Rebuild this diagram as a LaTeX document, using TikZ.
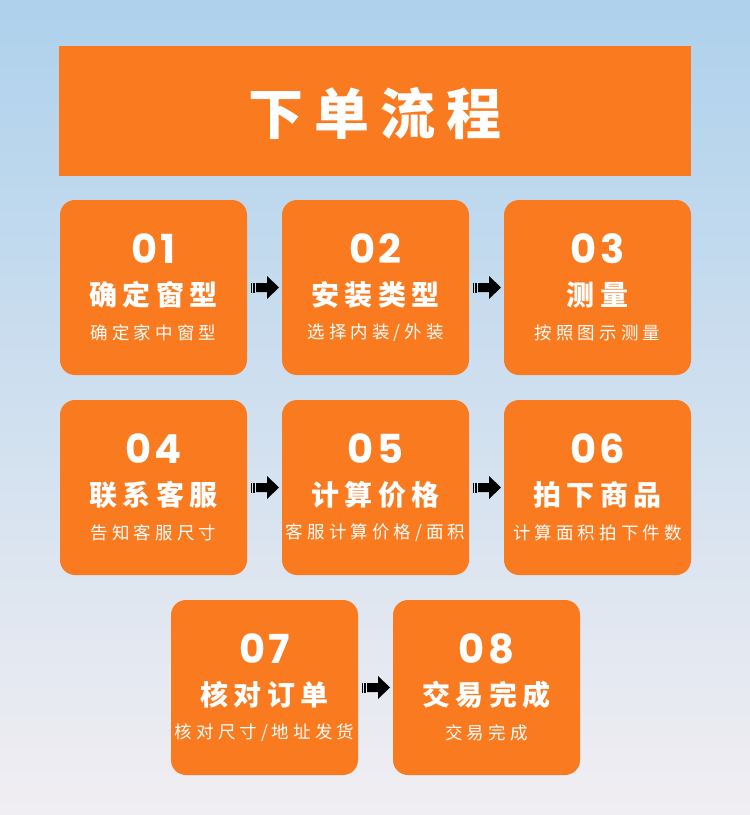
\documentclass[tikz,border=0pt]{standalone}
\usepackage{fontspec}
\setmainfont{Noto Sans CJK SC}
\newfontfamily\headfont[LetterSpace=20]{Noto Sans CJK SC Black}
\newfontfamily\subfont[LetterSpace=23]{Noto Sans CJK SC}
\newfontfamily\numfont[LetterSpace=8]{Poppins}
\usetikzlibrary{calc}
\definecolor{cardorange}{HTML}{FA7A1F}
\definecolor{bgtop}{HTML}{AED1EC}
\definecolor{bgbottom}{HTML}{F1EEF2}

\tikzset{
 stepbox/.style={fill=cardorange,rounded corners=15pt,minimum width=187pt,minimum height=175pt,inner sep=0pt},
 numtext/.style={text=white,font=\numfont\bfseries\fontsize{40}{41}\selectfont},
 headtext/.style={text=white,font=\headfont\fontsize{28}{30}\selectfont},
 subtext/.style={text=white,font=\subfont\fontsize{17.5}{19}\selectfont},
 nextarrow/.pic={
  \fill[black] (-13.5,-5) rectangle (-12.5,5);
  \fill[black] (-11.8,-5) rectangle (-10.8,5);
  \fill[black] (-10.2,-5) rectangle (-9.2,5);
  \fill[black] (-8.5,-4.5) -- (2.5,-4.5) -- (2.5,-11.5) -- (14.5,0)
    -- (2.5,11.5) -- (2.5,4.5) -- (-8.5,4.5) -- cycle;
 }
}

\begin{document}
\begin{tikzpicture}[x=1pt,y=-1pt]
 \useasboundingbox (0,0) rectangle (750,815);
 \shade[top color=bgtop,bottom color=bgbottom] (0,0) rectangle (750,815);
 % title banner
 \node[fill=cardorange,minimum width=632pt,minimum height=130pt,inner sep=0pt] (banner) at (375,111) {};
 \node[text=white,font=\headfont\fontsize{55}{60}\selectfont] (title) at (375,114) {下单流程};
 % step cards
 \foreach \n/\x/\y/\num/\head/\sub in {
   b1/153.5/287.5/01/确定窗型/确定家中窗型,
   b2/375.5/287.5/02/安装类型/{选择内装/外装},
   b3/597.5/287.5/03/测量/按照图示测量,
   b4/153.5/487.5/04/联系客服/告知客服尺寸,
   b5/375.5/487.5/05/计算价格/{客服计算价格/面积},
   b6/597.5/487.5/06/拍下商品/计算面积拍下件数,
   b7/264.5/687.5/07/核对订单/{核对尺寸/地址发货},
   b8/486.5/687.5/08/交易完成/交易完成}{
  \node[stepbox] (\n) at (\x,\y) {};
  \node[numtext] (\n-num) at (\x,\y-38.5) {\num};
  \node[headtext] (\n-head) at (\x,\y+7.5) {\head};
  \node[subtext] (\n-sub) at (\x,\y+45.5) {\sub};
 }
 % arrows between cards
 \foreach \a/\b in {b1/b2,b2/b3,b4/b5,b5/b6,b7/b8}{
  \pic at ($(\a.east)!0.5!(\b.west)$) {nextarrow};
 }
\end{tikzpicture}
\end{document}
